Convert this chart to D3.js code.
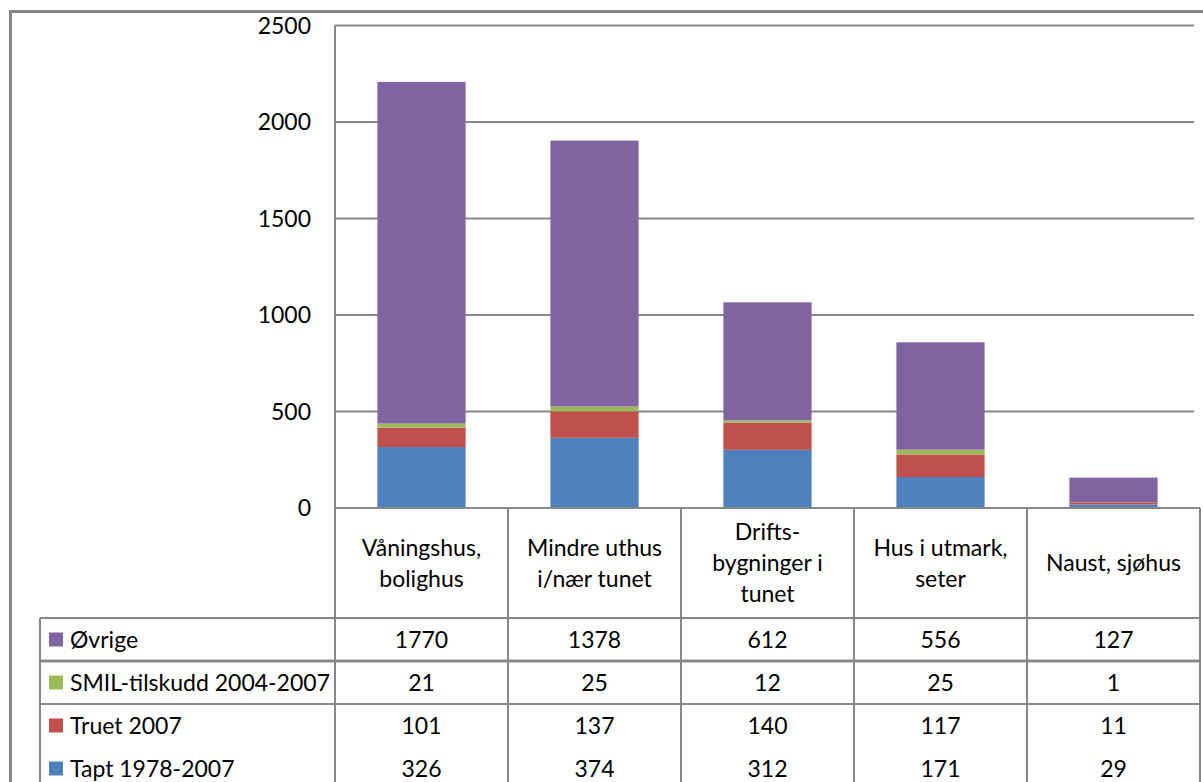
<!DOCTYPE html>
<html><head><meta charset="utf-8">
<script src="https://cdn.jsdelivr.net/npm/d3@7"></script>
<style>body{margin:0;background:#fff;} svg{display:block;}</style>
</head><body>
<svg id="c" width="1203" height="782"></svg>
<script>
const categories = [["Våningshus,","bolighus"],["Mindre uthus","i/nær tunet"],["Drifts-","bygninger i","tunet"],["Hus i utmark,","seter"],["Naust, sjøhus"]];
const seriesNames = ["Øvrige","SMIL-tilskudd 2004-2007","Truet 2007","Tapt 1978-2007"];
const ovrige = [1770,1378,612,556,127];
const smil = [21,25,12,25,1];
const truet = [101,137,140,117,11];
const tapt = [326,374,312,171,29];
const yTicks = [0,500,1000,1500,2000,2500];
const colors = {"Øvrige":"#8064A2","SMIL-tilskudd 2004-2007":"#9BBB59","Truet 2007":"#C0504D","Tapt 1978-2007":"#4F81BD"};

const svg = d3.select("#c");
const font = "Lato, 'Open Sans', sans-serif";
const fs = 23;
const gridC = "#878787";

const plotL = 335, plotR = 1200, plotT = 25.5, plotB = 508;
const x = d3.scaleBand().domain(d3.range(categories.length)).range([plotL, plotR]).paddingInner(0.49).paddingOuter(0.245);
const colX = d3.scaleBand().domain(d3.range(categories.length)).range([plotL, plotR]);
const y = d3.scaleLinear().domain([0,2500]).range([plotB, plotT]);

svg.append("defs").append("clipPath").attr("id","pc").append("rect")
  .attr("x",plotL).attr("y",0).attr("width",plotR-plotL).attr("height",plotB+1);

// outer frame
svg.append("path").attr("d","M10.5,1000 V11.5 H1300").attr("fill","none").attr("stroke",gridC).attr("stroke-width",3);

// gridlines
svg.append("g").selectAll("line").data(yTicks.filter(d=>d>0)).join("line")
  .attr("x1",plotL).attr("x2",plotR-6).attr("y1",d=>y(d)).attr("y2",d=>y(d))
  .attr("stroke",gridC).attr("stroke-width",2);

// y tick labels
svg.append("g").selectAll("text").data(yTicks).join("text")
  .attr("x",311).attr("y",d=>y(d)).attr("dy","0.35em").attr("text-anchor","end")
  .attr("font-family",font).attr("font-size",fs).attr("fill","#000").text(d=>d);

// stacked bars
const rows = categories.map((c,i)=>({i, "Tapt 1978-2007":tapt[i], "Truet 2007":truet[i], "SMIL-tilskudd 2004-2007":smil[i], "Øvrige":ovrige[i]}));
const stack = d3.stack().keys(["Tapt 1978-2007","Truet 2007","SMIL-tilskudd 2004-2007","Øvrige"])(rows);
svg.append("g").attr("clip-path","url(#pc)").append("g").attr("transform","translate(0,2)")
  .selectAll("g").data(stack).join("g").attr("fill",d=>colors[d.key])
  .selectAll("rect").data(d=>d).join("rect")
  .attr("x",d=>x(d.data.i)).attr("width",x.bandwidth())
  .attr("y",d=>y(d[1])).attr("height",d=>y(d[0])-y(d[1]));

// table lines
const tblL = 40, hdrB = 618, rowH = 43;
const lines = svg.append("g").attr("stroke",gridC).attr("stroke-width",2);
lines.append("line").attr("x1",plotL).attr("x2",plotL).attr("y1",plotT).attr("y2",800);
lines.append("line").attr("x1",plotL).attr("x2",plotR).attr("y1",plotB).attr("y2",plotB);
colX.domain().forEach(i=>{
  const xr = colX(i)+colX.bandwidth();
  lines.append("line").attr("x1",xr).attr("x2",xr).attr("y1",plotB).attr("y2",800);
});
lines.append("line").attr("x1",tblL).attr("x2",tblL).attr("y1",hdrB).attr("y2",800);
[hdrB, hdrB+rowH, hdrB+2*rowH].forEach((yy,k)=>{
  lines.append("line").attr("x1",tblL).attr("x2",plotR).attr("y1",yy).attr("y2",yy).attr("stroke-width",k==1?3:2);
});

// category header labels
const lh = 31;
const hdrC = (plotB+hdrB)/2;
categories.forEach((lbl,i)=>{
  const t = svg.append("text").attr("text-anchor","middle").attr("font-family",font).attr("font-size",fs).attr("fill","#000");
  lbl.forEach((ln,k)=>{
    t.append("tspan").attr("x",colX(i)+colX.bandwidth()/2)
     .attr("y",hdrC + (k-(lbl.length-1)/2)*lh).attr("dy","0.35em").text(ln);
  });
});

// data rows
const data = [ovrige, smil, truet, tapt];
seriesNames.forEach((name,r)=>{
  const cy = hdrB + rowH*r + rowH/2;
  svg.append("rect").attr("x",49).attr("y",cy-7).attr("width",14).attr("height",14).attr("fill",colors[name]);
  svg.append("text").attr("x",70).attr("y",cy).attr("dy","0.35em").attr("font-family",font).attr("font-size",fs).text(name);
  data[r].forEach((v,i)=>{
    svg.append("text").attr("x",colX(i)+colX.bandwidth()/2).attr("y",cy).attr("dy","0.35em")
      .attr("text-anchor","middle").attr("font-family",font).attr("font-size",fs).text(v);
  });
});
</script>
</body></html>
